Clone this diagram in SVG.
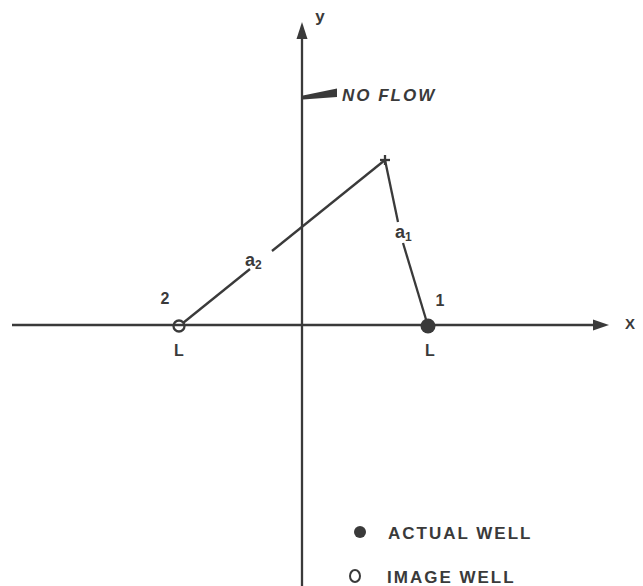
<svg xmlns="http://www.w3.org/2000/svg" width="643" height="586" viewBox="0 0 643 586">
<style>
.ln{stroke:#3a3a3a;stroke-width:2.3;fill:none}
.t{font-family:"Liberation Sans",Arial,sans-serif;font-weight:bold;fill:#3a3a3a}
</style>
<rect width="643" height="586" fill="#fff"/>
<g id="axes">
<line class="ln" x1="12" y1="325" x2="596" y2="325"/>
<polygon points="609,325 593,319.5 593,330.5" fill="#3a3a3a"/>
<line class="ln" x1="302" y1="586" x2="302" y2="36"/>
<polygon points="302,22 296.5,39 307.5,39" fill="#3a3a3a"/>
<text class="t" x="320" y="22" font-size="17" text-anchor="middle" font-weight="normal">y</text>
<text class="t" x="630" y="329" font-size="15" text-anchor="middle">X</text>
</g>
<g id="noflow">
<polygon points="303,95.5 337,88.5 337,97 303,99.5" fill="#3a3a3a"/>
<text class="t" x="342" y="101" font-size="17" font-style="italic" letter-spacing="2">NO FLOW</text>
</g>
<g id="connectors">
<line class="ln" x1="183" y1="323" x2="250" y2="269"/>
<line class="ln" x1="272" y1="251" x2="385" y2="160"/>
<line class="ln" x1="385" y1="160" x2="398" y2="222"/>
<line class="ln" x1="403" y1="243" x2="428" y2="326"/>
</g>
<g id="point">
<line class="ln" x1="380" y1="160" x2="390" y2="160"/>
<line class="ln" x1="385" y1="155" x2="385" y2="165"/>
</g>
<g id="labels-a">
<text class="t" x="245" y="266" font-size="18">a<tspan font-size="12" dy="3">2</tspan></text>
<text class="t" x="395" y="238" font-size="18">a<tspan font-size="12" dy="3">1</tspan></text>
</g>
<g id="image-well">
<circle cx="179" cy="326" r="5.5" fill="none" stroke="#3a3a3a" stroke-width="2.3"/>
<text class="t" x="165" y="304" font-size="16" text-anchor="middle">2</text>
<text class="t" x="179" y="356" font-size="16" text-anchor="middle">L</text>
</g>
<g id="actual-well">
<circle cx="428" cy="326" r="7.5" fill="#3a3a3a"/>
<text class="t" x="440" y="306" font-size="16" text-anchor="middle">1</text>
<text class="t" x="430" y="356" font-size="16" text-anchor="middle">L</text>
</g>
<g id="legend">
<circle cx="360" cy="532" r="6" fill="#3a3a3a"/>
<text class="t" x="388" y="539" font-size="17" letter-spacing="2">ACTUAL WELL</text>
<ellipse cx="355" cy="576" rx="5" ry="6" fill="none" stroke="#3a3a3a" stroke-width="2"/>
<text class="t" x="387" y="583" font-size="17" letter-spacing="2">IMAGE WELL</text>
</g>
</svg>
